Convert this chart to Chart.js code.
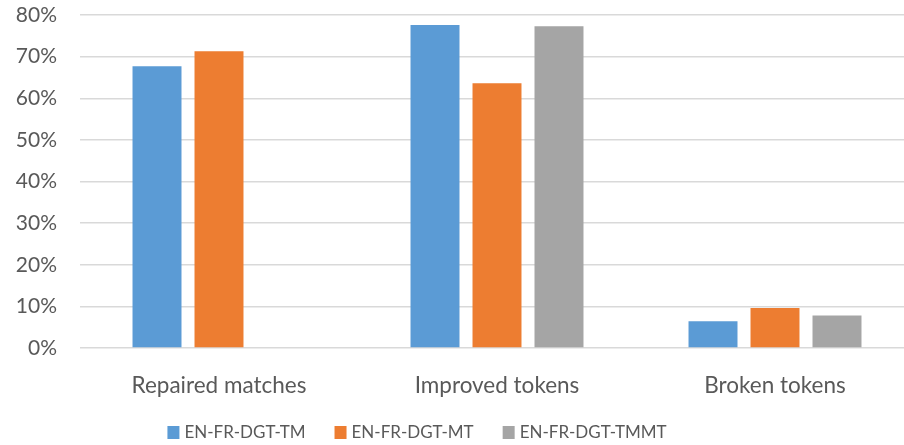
<!DOCTYPE html>
<html>
<head>
<meta charset="utf-8">
<script src="https://cdn.jsdelivr.net/npm/chart.js@4/dist/chart.umd.min.js"></script>
<style>
  html, body { margin: 0; padding: 0; background: #fff; overflow: hidden; }
  #wrap { position: absolute; left: 0; top: 0; width: 920px; height: 445px; }
</style>
</head>
<body>
<div id="wrap"><canvas id="c"></canvas></div>
<script>
// Categories and series (percent)
const categories = ['Repaired matches', 'Improved tokens', 'Broken tokens'];
const seriesNames = ['EN-FR-DGT-TM', 'EN-FR-DGT-MT', 'EN-FR-DGT-TMMT'];
const tmValues = [67.7, 77.6, 6.4];
const mtValues = [71.3, 63.6, 9.6];
const tmmtValues = [null, 77.3, 7.8];
const yTicks = [0, 10, 20, 30, 40, 50, 60, 70, 80];

const colors = ['#5B9BD5', '#ED7D31', '#A5A5A5'];
const FONT = 'Lato, "Open Sans", sans-serif';
const TEXT = '#595959';

// Legend drawn below the plot, centred under the left part of the canvas
const bottomLegend = {
  id: 'bottomLegend',
  afterDraw(chart) {
    const ctx = chart.ctx;
    ctx.save();
    ctx.font = '17px ' + FONT;
    const box = 12, gap = 5, spacing = 29;
    const items = chart.data.datasets.map(d => ({
      label: d.label, color: d.backgroundColor, w: ctx.measureText(d.label).width
    }));
    let total = 0;
    items.forEach((it, i) => { total += box + gap + it.w + (i ? spacing : 0); });
    let x = 417 - total / 2;
    const cy = 432;
    ctx.textBaseline = 'middle';
    ctx.textAlign = 'left';
    items.forEach(it => {
      ctx.fillStyle = it.color;
      ctx.fillRect(x, cy - 6, box, box + 1);
      ctx.fillStyle = TEXT;
      ctx.fillText(it.label, x + box + gap, cy + 1);
      x += box + gap + it.w + spacing;
    });
    ctx.restore();
  }
};

new Chart(document.getElementById('c'), {
  type: 'bar',
  data: {
    labels: categories,
    datasets: [
      { label: seriesNames[0], data: tmValues, backgroundColor: colors[0] },
      { label: seriesNames[1], data: mtValues, backgroundColor: colors[1] },
      { label: seriesNames[2], data: tmmtValues, backgroundColor: colors[2] }
    ]
  },
  options: {
    responsive: true,
    maintainAspectRatio: false,
    animation: false,
    devicePixelRatio: 1,
    layout: { padding: { top: 15, right: 6, left: 0, bottom: 0 } },
    datasets: { bar: { categoryPercentage: 0.669, barPercentage: 0.79 } },
    plugins: {
      legend: { display: false },
      tooltip: { enabled: false }
    },
    scales: {
      x: {
        grid: { display: false },
        border: { display: false },
        ticks: { color: TEXT, font: { family: FONT, size: 22.5 }, padding: 16, maxRotation: 0 },
        afterFit(scale) { scale.height = 97; }
      },
      y: {
        min: 0,
        max: 80,
        afterBuildTicks(scale) { scale.ticks = yTicks.map(v => ({ value: v })); },
        ticks: {
          color: TEXT,
          font: { family: FONT, size: 21 },
          padding: 23,
          callback: v => v + '%'
        },
        grid: { color: '#D9D9D9', lineWidth: 1.5, drawTicks: false },
        border: { display: false },
        afterFit(scale) {
          scale.width = 80;
          scale.paddingTop = 0;
          scale.paddingBottom = 0;
        }
      }
    }
  },
  plugins: [bottomLegend]
});
</script>
</body>
</html>
